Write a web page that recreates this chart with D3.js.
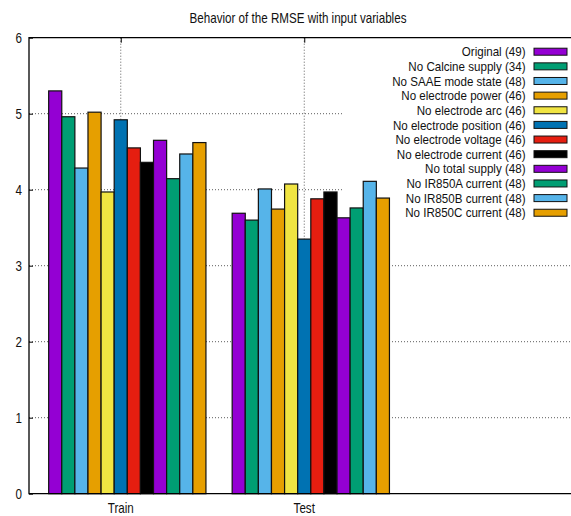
<!DOCTYPE html>
<html>
<head>
<meta charset="utf-8">
<script src="https://cdn.jsdelivr.net/npm/d3@7"></script>
<style>
  body { margin: 0; background: #fff; }
  text { font-family: "Liberation Sans", Arial, sans-serif; fill: #111; }
</style>
</head>
<body>
<svg id="chart"></svg>
<script>
var categories = ["Train", "Test"];
var seriesNames = [
  "Original (49)", "No Calcine supply (34)", "No SAAE mode state (48)",
  "No electrode power (46)", "No electrode arc (46)", "No electrode position (46)",
  "No electrode voltage (46)", "No electrode current (46)", "No total supply (48)",
  "No IR850A current (48)", "No IR850B current (48)", "No IR850C current (48)"
];
var trainRmse = [5.30, 4.96, 4.285, 5.02, 3.97, 4.92, 4.55, 4.36, 4.65, 4.145, 4.47, 4.62];
var testRmse  = [3.69, 3.60, 4.01, 3.745, 4.075, 3.35, 3.88, 3.97, 3.63, 3.76, 4.11, 3.89];
var yTicks = [0, 1, 2, 3, 4, 5, 6];
var colors = ["#9400d3", "#009e73", "#56b4e9", "#e69f00", "#f0e442", "#0072b2",
              "#e51e10", "#000000", "#9400d3", "#009e73", "#56b4e9", "#e69f00"];

var svgWidth = 571, svgHeight = 516;
var plotLeft = 29, plotTop = 37.7, plotBottom = 493.7;
var n = seriesNames.length;

var svg = d3.select("#chart")
    .attr("width", svgWidth)
    .attr("height", svgHeight);

var x = d3.scaleLinear()
    .domain([-0.5, 2.5])
    .range([plotLeft, plotLeft + 3 * 183.5]);

var y = d3.scaleLinear()
    .domain([0, 6])
    .range([plotBottom, plotTop]);

var bw = (x(1) - x(0)) / (n + 2);

var table = [];
categories.forEach(function(c, i) {
  var vals = i == 0 ? trainRmse : testRmse;
  for (var j = 0; j < n; j++) {
    table.push({ cat: i, series: j, value: vals[j] });
  }
});

// gnuplot's font is narrow, so squeeze the text sideways
function narrowText(sel, px, py, anchor, size, squeeze, str) {
  return sel.append("text")
    .attr("transform", "translate(" + px + "," + py + ") scale(" + squeeze + ",1)")
    .attr("text-anchor", anchor)
    .attr("font-size", size)
    .text(str);
}

// grid
var grid = svg.append("g")
    .attr("stroke", "#333")
    .attr("stroke-width", 0.8)
    .attr("stroke-dasharray", "1,2");

grid.selectAll(".hg")
  .data(yTicks.filter(function(d) { return d > 0 && d < 6; }))
  .enter().append("line")
    .attr("x1", plotLeft).attr("x2", svgWidth)
    .attr("y1", function(d) { return y(d); })
    .attr("y2", function(d) { return y(d); });

grid.selectAll(".vg")
  .data(categories)
  .enter().append("line")
    .attr("x1", function(d, i) { return x(i); })
    .attr("x2", function(d, i) { return x(i); })
    .attr("y1", plotTop).attr("y2", plotBottom);

// legend background hides the grid behind the key
svg.append("rect")
    .attr("x", 343).attr("y", plotTop + 1)
    .attr("width", svgWidth - 343).attr("height", 185)
    .attr("fill", "#fff");

// axes
var yAxis = svg.append("g")
    .attr("transform", "translate(" + plotLeft + ",0)")
    .call(d3.axisRight(y).tickValues(yTicks).tickSize(4).tickFormat(""));
yAxis.select(".domain").remove();

svg.append("g")
    .attr("transform", "translate(0," + plotBottom + ")")
    .call(d3.axisTop(x).tickValues([0, 1]).tickSize(5).tickFormat(""))
    .select(".domain").remove();

svg.append("g")
    .attr("transform", "translate(0," + plotTop + ")")
    .call(d3.axisBottom(x).tickValues([0, 1]).tickSize(5).tickFormat(""))
    .select(".domain").remove();

yTicks.forEach(function(d) {
  narrowText(svg, 22, y(d) + 4.8, "end", 14, 0.83, d);
});

categories.forEach(function(d, i) {
  narrowText(svg, x(i), 512.7, "middle", 14, 0.83, d);
});

// bars
svg.selectAll(".bar")
  .data(table)
  .enter().append("rect")
    .attr("x", function(d) { return x(d.cat) + (d.series - 5.5) * bw; })
    .attr("y", function(d) { return y(d.value); })
    .attr("width", bw)
    .attr("height", function(d) { return y(0) - y(d.value); })
    .attr("fill", function(d) { return colors[d.series]; })
    .attr("stroke", "#111")
    .attr("stroke-width", 1.2);

// border
svg.append("path")
    .attr("d", "M" + svgWidth + "," + plotTop + "H" + plotLeft + "V" + plotBottom + "H" + svgWidth)
    .attr("fill", "none")
    .attr("stroke", "#000")
    .attr("stroke-width", 1.3);

// legend
var key = svg.append("g");
var rowH = 14.64, row0 = 51.7;
seriesNames.forEach(function(name, i) {
  var cy = row0 + i * rowH;
  narrowText(key, 525.5, cy + 4.6, "end", 12.6, 0.92, name);
  key.append("rect")
    .attr("x", 534).attr("y", cy - 3.5)
    .attr("width", 33).attr("height", 7)
    .attr("fill", colors[i])
    .attr("stroke", "#111")
    .attr("stroke-width", 1);
});

narrowText(svg, 298, 22.5, "middle", 14, 0.83, "Behavior of the RMSE with input variables");
</script>
</body>
</html>
